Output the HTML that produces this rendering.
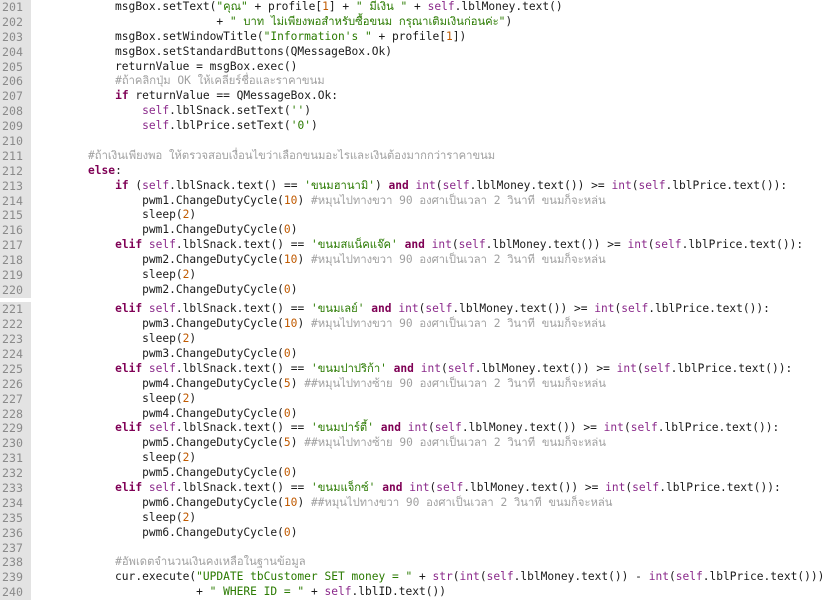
<!DOCTYPE html>
<html><head><meta charset="utf-8"><style>
html,body{margin:0;padding:0;background:#fff;width:834px;height:600px;overflow:hidden}
.w{position:absolute;left:0;top:0;width:834px}
.l{height:14.9px;line-height:14.9px;white-space:pre;font-family:"DejaVu Sans Mono","Liberation Mono","Noto Sans CJK SC",monospace;font-size:11.22px;color:#1a1a1a;position:relative}
.n{position:absolute;left:0;top:0;width:31px;height:100%;background:#e3e3e3;color:#8a8a8a;padding-left:2px;box-sizing:border-box;font-size:11.6px}
.c{position:absolute;left:34px;top:0}
.k{color:#7f0055;font-weight:bold}
.b{color:#8b2a8b}
.s{color:#2a7a00}
.d{color:#c05a00}
.m{color:#a0a0a0}
.t{letter-spacing:-0.3px}
.gap{height:4.5px}
</style></head><body><div class="w">
<div class="l"><span class="n">201</span><span class="c">            msgBox.setText(<span class="s">"คุณ"</span> + profile[<span class="d">1</span>] + <span class="s">" มีเงิน "</span> + <span class="b">self</span>.lblMoney.text()</span></div>
<div class="l"><span class="n">202</span><span class="c">                           + <span class="s">" บาท ไม่เพียงพอสำหรับซื้อขนม กรุณาเติมเงินก่อนค่ะ"</span>)</span></div>
<div class="l"><span class="n">203</span><span class="c">            msgBox.setWindowTitle(<span class="s">"Information's "</span> + profile[<span class="d">1</span>])</span></div>
<div class="l"><span class="n">204</span><span class="c">            msgBox.setStandardButtons(QMessageBox.Ok)</span></div>
<div class="l"><span class="n">205</span><span class="c">            returnValue = msgBox.exec()</span></div>
<div class="l"><span class="n">206</span><span class="c">            <span class="m">#ถ้าคลิกปุ่ม OK ให้เคลียร์ชื่อและราคาขนม</span></span></div>
<div class="l"><span class="n">207</span><span class="c">            <span class="k">if</span> returnValue == QMessageBox.Ok:</span></div>
<div class="l"><span class="n">208</span><span class="c">                <span class="b">self</span>.lblSnack.setText(<span class="s">''</span>)</span></div>
<div class="l"><span class="n">209</span><span class="c">                <span class="b">self</span>.lblPrice.setText(<span class="s">'0'</span>)</span></div>
<div class="l"><span class="n">210</span><span class="c"></span></div>
<div class="l"><span class="n">211</span><span class="c">        <span class="m">#ถ้าเงินเพียงพอ ให้ตรวจสอบเงื่อนไขว่าเลือกขนมอะไรและเงินต้องมากกว่าราคาขนม</span></span></div>
<div class="l"><span class="n">212</span><span class="c">        <span class="k">else</span>:</span></div>
<div class="l"><span class="n">213</span><span class="c">            <span class="k">if</span> (<span class="b">self</span>.lblSnack.text() == <span class="s">'ขนมฮานามิ'</span>) <span class="k">and</span> <span class="b">int</span>(<span class="b">self</span>.lblMoney.text()) &gt;= <span class="b">int</span>(<span class="b">self</span>.lblPrice.text()):</span></div>
<div class="l"><span class="n">214</span><span class="c">                pwm1.ChangeDutyCycle(<span class="d">10</span>) <span class="m">#หมุนไปทางขวา 90 องศาเป็นเวลา 2 วินาที ขนมก็จะหล่น</span></span></div>
<div class="l"><span class="n">215</span><span class="c">                sleep(<span class="d">2</span>)</span></div>
<div class="l"><span class="n">216</span><span class="c">                pwm1.ChangeDutyCycle(<span class="d">0</span>)</span></div>
<div class="l"><span class="n">217</span><span class="c">            <span class="k">elif</span> <span class="b">self</span>.lblSnack.text() == <span class="s">'ขนมสแน็คแจ๊ค'</span> <span class="k">and</span> <span class="b">int</span>(<span class="b">self</span>.lblMoney.text()) &gt;= <span class="b">int</span>(<span class="b">self</span>.lblPrice.text()):</span></div>
<div class="l"><span class="n">218</span><span class="c">                pwm2.ChangeDutyCycle(<span class="d">10</span>) <span class="m">#หมุนไปทางขวา 90 องศาเป็นเวลา 2 วินาที ขนมก็จะหล่น</span></span></div>
<div class="l"><span class="n">219</span><span class="c">                sleep(<span class="d">2</span>)</span></div>
<div class="l"><span class="n">220</span><span class="c">                pwm2.ChangeDutyCycle(<span class="d">0</span>)</span></div>
<div class="gap"></div>
<div class="l"><span class="n">221</span><span class="c">            <span class="k">elif</span> <span class="b">self</span>.lblSnack.text() == <span class="s">'ขนมเลย์'</span> <span class="k">and</span> <span class="b">int</span>(<span class="b">self</span>.lblMoney.text()) &gt;= <span class="b">int</span>(<span class="b">self</span>.lblPrice.text()):</span></div>
<div class="l"><span class="n">222</span><span class="c">                pwm3.ChangeDutyCycle(<span class="d">10</span>) <span class="m">#หมุนไปทางขวา 90 องศาเป็นเวลา 2 วินาที ขนมก็จะหล่น</span></span></div>
<div class="l"><span class="n">223</span><span class="c">                sleep(<span class="d">2</span>)</span></div>
<div class="l"><span class="n">224</span><span class="c">                pwm3.ChangeDutyCycle(<span class="d">0</span>)</span></div>
<div class="l"><span class="n">225</span><span class="c">            <span class="k">elif</span> <span class="b">self</span>.lblSnack.text() == <span class="s">'ขนมปาปริก้า'</span> <span class="k">and</span> <span class="b">int</span>(<span class="b">self</span>.lblMoney.text()) &gt;= <span class="b">int</span>(<span class="b">self</span>.lblPrice.text()):</span></div>
<div class="l"><span class="n">226</span><span class="c">                pwm4.ChangeDutyCycle(<span class="d">5</span>) <span class="m">##หมุนไปทางซ้าย 90 องศาเป็นเวลา 2 วินาที ขนมก็จะหล่น</span></span></div>
<div class="l"><span class="n">227</span><span class="c">                sleep(<span class="d">2</span>)</span></div>
<div class="l"><span class="n">228</span><span class="c">                pwm4.ChangeDutyCycle(<span class="d">0</span>)</span></div>
<div class="l"><span class="n">229</span><span class="c">            <span class="k">elif</span> <span class="b">self</span>.lblSnack.text() == <span class="s">'ขนมปาร์ตี้'</span> <span class="k">and</span> <span class="b">int</span>(<span class="b">self</span>.lblMoney.text()) &gt;= <span class="b">int</span>(<span class="b">self</span>.lblPrice.text()):</span></div>
<div class="l"><span class="n">230</span><span class="c">                pwm5.ChangeDutyCycle(<span class="d">5</span>) <span class="m">##หมุนไปทางซ้าย 90 องศาเป็นเวลา 2 วินาที ขนมก็จะหล่น</span></span></div>
<div class="l"><span class="n">231</span><span class="c">                sleep(<span class="d">2</span>)</span></div>
<div class="l"><span class="n">232</span><span class="c">                pwm5.ChangeDutyCycle(<span class="d">0</span>)</span></div>
<div class="l"><span class="n">233</span><span class="c">            <span class="k">elif</span> <span class="b">self</span>.lblSnack.text() == <span class="s">'ขนมแจ็กซ์'</span> <span class="k">and</span> <span class="b">int</span>(<span class="b">self</span>.lblMoney.text()) &gt;= <span class="b">int</span>(<span class="b">self</span>.lblPrice.text()):</span></div>
<div class="l"><span class="n">234</span><span class="c">                pwm6.ChangeDutyCycle(<span class="d">10</span>) <span class="m">##หมุนไปทางขวา 90 องศาเป็นเวลา 2 วินาที ขนมก็จะหล่น</span></span></div>
<div class="l"><span class="n">235</span><span class="c">                sleep(<span class="d">2</span>)</span></div>
<div class="l"><span class="n">236</span><span class="c">                pwm6.ChangeDutyCycle(<span class="d">0</span>)</span></div>
<div class="l"><span class="n">237</span><span class="c"></span></div>
<div class="l"><span class="n">238</span><span class="c">            <span class="m">#อัพเดตจำนวนเงินคงเหลือในฐานข้อมูล</span></span></div>
<div class="l"><span class="n">239</span><span class="c">            cur.execute(<span class="s">"UPDATE tbCustomer SET money = "</span> + <span class="b">str</span>(<span class="b">int</span>(<span class="b">self</span>.lblMoney.text()) - <span class="b">int</span>(<span class="b">self</span>.lblPrice.text()))</span></div>
<div class="l"><span class="n">240</span><span class="c">                        + <span class="s">" WHERE ID = "</span> + <span class="b">self</span>.lblID.text())</span></div>
</div></body></html>
